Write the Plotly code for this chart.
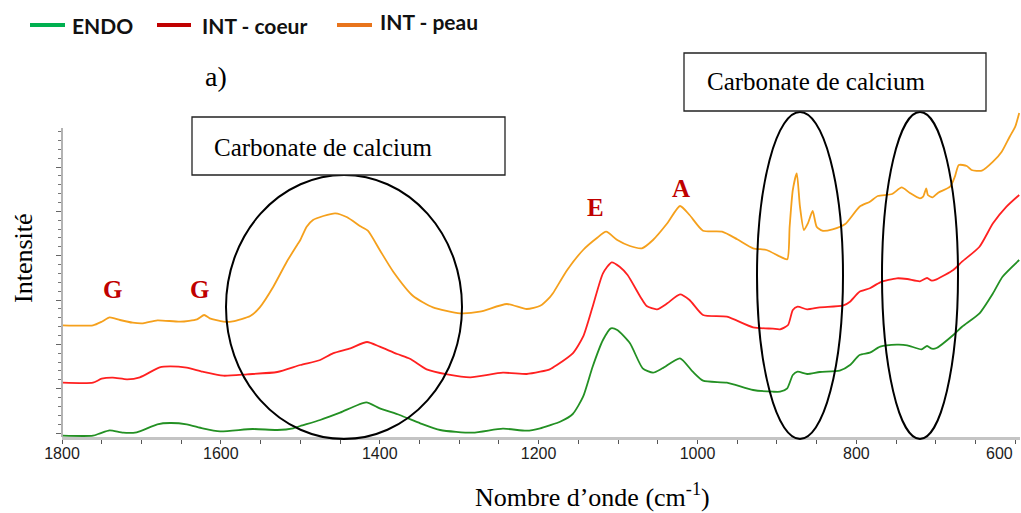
import plotly.graph_objects as go

# ---- spectra (wavenumber in cm-1, intensity in arbitrary units, offset per sample) ----
endo_wn = [1799, 1761, 1752, 1740, 1723, 1706, 1680, 1664, 1643, 1623, 1601, 1560, 1529, 1509,
           1500, 1475, 1450, 1417, 1400, 1375, 1349, 1324, 1283, 1245, 1215, 1198, 1186, 1173,
           1157, 1144, 1132, 1119, 1109, 1101, 1085, 1069, 1056, 1044, 1022, 1006, 993, 963,
           930, 905, 896, 887, 880, 874, 862, 846, 821, 808, 796, 783, 770, 749, 736, 718,
           711, 705, 699, 678, 667, 645, 628, 616, 595]
endo_int = [1.3, 1.3, 3.7, 6.7, 4.3, 4.7, 12.7, 14, 12.7, 8.7, 5.7, 8, 7, 8.7,
            11, 17, 24.3, 34.7, 28.7, 22, 13.7, 7, 4.3, 8.3, 6.3, 8.7, 11.7, 15.3,
            23, 40.3, 70.3, 97, 108.7, 107, 93.7, 68.7, 64.3, 68.7, 78.7, 65.3, 56.3, 54.3,
            47, 45.3, 45.3, 48.7, 62, 65.3, 63, 65, 66.3, 72, 82, 84.3, 90.3, 92.3, 91.7, 87.7,
            91, 88.3, 89, 102, 110.3, 123.7, 143.7, 160.3, 177]

coeur_wn = [1799, 1761, 1750, 1736, 1718, 1702, 1677, 1664, 1643, 1623, 1597, 1567, 1529,
            1500, 1475, 1459, 1437, 1416, 1400, 1378, 1362, 1341, 1315, 1286, 1245, 1215,
            1198, 1186, 1177, 1157, 1144, 1132, 1119, 1108, 1098, 1088, 1072, 1064, 1051,
            1038, 1022, 1010, 993, 963, 930, 905, 896, 886, 880, 874, 862, 846, 817, 808,
            796, 783, 770, 749, 736, 720, 711, 705, 699, 678, 667, 645, 628, 611, 595]
coeur_int = [54.3, 54.3, 58.3, 59.3, 57.7, 59.7, 69.7, 70.7, 69.3, 65.3, 61.3, 62.7, 65,
             72, 77, 83.7, 88.7, 95, 90.3, 83, 78.3, 67.7, 62.7, 59.7, 64.3, 63,
             65.3, 67.7, 72, 83.7, 100.3, 130.3, 163.7, 174.7, 170.3, 162, 140.3, 131, 127.7,
             133.7, 142.7, 137, 122, 120.3, 109.7, 108.3, 107.7, 112, 127, 130.3, 127.7, 129.7,
             131.3, 135.3, 145.3, 148.7, 154.7, 158.7, 158, 155.7, 159, 156.3, 157.7, 167,
             175.3, 190.3, 213.7, 230.3, 242]

peau_wn = [1799, 1761, 1750, 1740, 1727, 1711, 1698, 1680, 1651, 1630, 1621, 1614, 1597,
           1585, 1563, 1551, 1534, 1517, 1504, 1500, 1492, 1484, 1471, 1456, 1441, 1425,
           1415, 1400, 1383, 1358, 1333, 1299, 1274, 1240, 1215, 1198, 1186, 1182, 1164,
           1144, 1127, 1115, 1101, 1085, 1070, 1056, 1038, 1022, 1010, 993, 969, 950, 930,
           913, 896, 887, 884, 880, 875, 871, 866, 861, 855, 850, 843, 830, 814, 796, 783,
           773, 755, 743, 733, 720, 716, 712, 710, 704, 697, 682, 676, 671, 661, 655, 642,
           628, 617, 607, 600, 595]
peau_int = [111.7, 111.7, 115.3, 119.7, 117, 114.3, 113.7, 116.7, 115.3, 117.7, 122, 118.7, 115.3,
            115.7, 121, 129.7, 150.3, 175.3, 192, 197, 210.3, 217, 221, 223.7, 219.7, 211,
            206.3, 187, 165.3, 141, 129.7, 123.7, 125.3, 133, 128, 131.3, 139.7, 143.7, 167,
            187, 198.7, 205.3, 197, 191, 188.7, 197, 213.7, 231, 222, 206.3, 205.3, 197.7, 188.7,
            187, 180.3, 177.7, 210.3, 247, 263.7, 230.3, 207, 213.7, 226, 210.3, 206.3, 207.7,
            213, 230.3, 235.3, 241, 243, 249.7, 244.3, 238.7, 240.3, 248.7, 242, 239.7, 244.3,
            250.3, 260.3, 272, 271, 267, 266.3, 275.3, 285.3, 300.3, 310.3, 324]

series_names = ["ENDO", "INT - coeur", "INT - peau"]
line_colors = ["#239023", "#ff2020", "#f5a01c"]
legend_colors = ["#00b050", "#c00000", "#e8741c"]

x_ticks = [1800, 1600, 1400, 1200, 1000, 800, 600]
band_labels = [("G", 1737), ("G", 1627), ("E", 1128), ("A", 1021)]

# ---- page geometry (pixels) ----
W, H = 1021, 513
L, R, T, B = 62, 1, 110, 76
PW, PH = W - L - R, H - T - B


def px(x):
    """horizontal page pixel -> paper coordinate"""
    return (x - L) / PW


def py(y):
    """vertical page pixel -> paper coordinate"""
    return (H - B - y) / PH


fig = go.Figure()
for wn, inten, name, col in zip([endo_wn, coeur_wn, peau_wn],
                                [endo_int, coeur_int, peau_int],
                                series_names, line_colors):
    fig.add_trace(go.Scatter(x=wn, y=inten, mode="lines", name=name, showlegend=False,
                             line=dict(color=col, width=1.8, shape="spline", smoothing=0.6)))

# y ticks: major every ~44.3 units, four minor ticks in between, axis top at 309
y_major = [4 + 44.33 * k for k in range(7)]
y_minor = [4 + 8.866 * k for k in range(35) if k % 5]

serif = "Liberation Serif, Times New Roman, serif"
sans = "Liberation Sans, Arial, sans-serif"
tick_font = dict(family=sans, size=16, color="#1c1c1c")

fig.update_layout(
    width=W, height=H,
    margin=dict(l=L, r=R, t=T, b=B, autoexpand=False),
    paper_bgcolor="white", plot_bgcolor="white",
    showlegend=False,
    # the last tick (600) sits at the page edge: its mark comes from the minor ticks and
    # its label is drawn right-aligned below
    xaxis=dict(range=[1800, 594], tickmode="array", tickvals=x_ticks[:-1],
               ticks="outside", ticklen=4, ticklabelstandoff=-4, automargin=False,
               tickcolor="#555", tickwidth=1, showline=True, linecolor="#c4c4c4",
               linewidth=2.5, showgrid=False, zeroline=False, tickfont=tick_font,
               minor=dict(dtick=50, ticks="outside", ticklen=4, tickcolor="#555")),
    yaxis=dict(range=[0, PH], tickmode="array", tickvals=y_major, showticklabels=False,
               ticks="outside", ticklen=5, tickcolor="#666", showline=False,
               showgrid=False, zeroline=False, automargin=False,
               minor=dict(tickmode="array", tickvals=y_minor, ticks="outside",
                          ticklen=3, tickcolor="#777")),
)

shapes = []
# y axis line (stops below the top of the plotting area)
shapes.append(dict(type="line", xref="paper", yref="paper", x0=0, x1=0, y0=0, y1=py(128),
                   line=dict(color="#9a9a9a", width=1.5)))
# ellipses around carbonate bands
for x0, x1, y0, y1 in [(226, 462, 175, 439), (757, 843, 112, 439), (882, 958, 112, 439)]:
    shapes.append(dict(type="circle", xref="paper", yref="paper",
                       x0=px(x0), x1=px(x1), y0=py(y1), y1=py(y0),
                       line=dict(color="black", width=2)))
# text boxes
for x0, x1, y0, y1 in [(192, 505, 117, 175), (684, 986, 53, 111)]:
    shapes.append(dict(type="rect", xref="paper", yref="paper",
                       x0=px(x0), x1=px(x1), y0=py(y1), y1=py(y0),
                       fillcolor="white", line=dict(color="#222", width=1.3)))
# legend swatches
for (x0, x1, y), col in zip([(30, 65, 25), (157, 191, 25), (337, 372, 25)], legend_colors):
    shapes.append(dict(type="line", xref="paper", yref="paper",
                       x0=px(x0), x1=px(x1), y0=py(y), y1=py(y),
                       line=dict(color=col, width=4)))
fig.update_layout(shapes=shapes)

ann = []
# right-aligned label of the last x tick
ann.append(dict(text=str(x_ticks[-1]), x=x_ticks[-1], y=py(453), xref="x", yref="paper",
                xanchor="right", yanchor="middle", showarrow=False, font=tick_font))
for (x, y), name in zip([(70, 25), (200, 25), (378, 22)], series_names):
    ann.append(dict(text=name, x=px(x), y=py(y), xref="paper", yref="paper",
                    xanchor="left", yanchor="middle", showarrow=False,
                    font=dict(family="Lato, sans-serif", size=21, color="#111", weight="bold")))
for (x, y) in [(212, 147), (705, 82)]:
    ann.append(dict(text="Carbonate de calcium", x=px(x), y=py(y), xref="paper", yref="paper",
                    xanchor="left", yanchor="middle", showarrow=False,
                    font=dict(family=serif, size=25, color="black")))
ann.append(dict(text="a)", x=px(216), y=py(77), xref="paper", yref="paper",
                xanchor="center", yanchor="middle", showarrow=False,
                font=dict(family=serif, size=28, color="black")))
for (lab, wn), y in zip(band_labels, [289, 289, 207, 188]):
    ann.append(dict(text=lab, x=wn, y=py(y), xref="x", yref="paper",
                    xanchor="center", yanchor="middle", showarrow=False,
                    font=dict(family=serif, size=25, color="#c00000", weight="bold")))
ann.append(dict(text="Nombre d\u2019onde (cm<sup>-1</sup>)", x=px(592), y=py(495),
                xref="paper", yref="paper", xanchor="center", yanchor="middle",
                showarrow=False, font=dict(family=serif, size=26, color="black")))
ann.append(dict(text="Intensité", x=px(23), y=py(258), xref="paper", yref="paper",
                xanchor="center", yanchor="middle", textangle=-90, showarrow=False,
                font=dict(family=serif, size=26, color="black")))
fig.update_layout(annotations=ann)

fig.write_html("out.html")
